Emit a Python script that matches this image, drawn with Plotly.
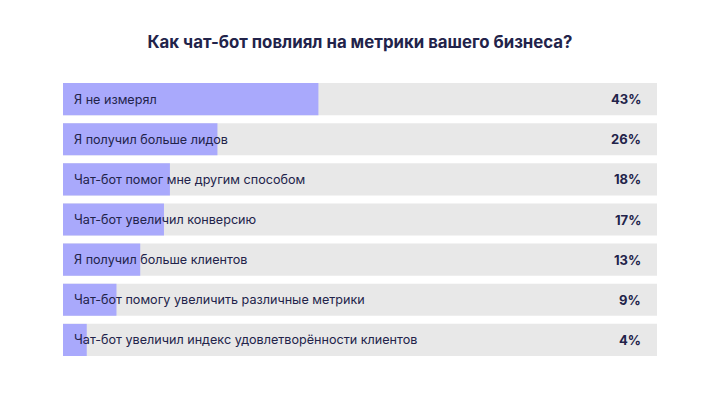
import plotly.graph_objects as go

categories = [
    "Я не измерял",
    "Я получил больше лидов",
    "Чат-бот помог мне другим способом",
    "Чат-бот увеличил конверсию",
    "Я получил больше клиентов",
    "Чат-бот помогу увеличить различные метрики",
    "Чат-бот увеличил индекс удовлетворённости клиентов",
]
values = [43, 26, 18, 17, 13, 9, 4]
value_labels = ["43%", "26%", "18%", "17%", "13%", "9%", "4%"]
total = [100] * len(categories)

TEXT = "#22234a"
FONT = "Inter, Roboto, sans-serif"

fig = go.Figure()
fig.add_trace(go.Bar(
    y=categories, x=total, orientation="h",
    marker=dict(color="#e8e8e8", line=dict(width=0)),
    width=0.8, hoverinfo="skip", showlegend=False,
))
fig.add_trace(go.Bar(
    y=categories, x=values, orientation="h",
    marker=dict(color="#a9a9fc", line=dict(width=0)),
    width=0.8, showlegend=False,
))

for cat, lab in zip(categories, value_labels):
    fig.add_annotation(
        x=0, y=cat, xref="x", yref="y", text=cat, showarrow=False,
        xanchor="left", xshift=9, font=dict(family=FONT, size=12.6, color=TEXT),
    )
    fig.add_annotation(
        x=100, y=cat, xref="x", yref="y", text="<b>" + lab + "</b>", showarrow=False,
        xanchor="right", xshift=-14, font=dict(family=FONT, size=13, color=TEXT),
    )

fig.update_layout(
    width=720, height=404,
    margin=dict(l=55, r=71, t=71, b=52),
    paper_bgcolor="white", plot_bgcolor="white",
    barmode="overlay",
    title=dict(
        text="<b>Как чат-бот повлиял на метрики вашего бизнеса?</b>",
        x=0.5, xref="paper", xanchor="center", y=0.915, yanchor="middle",
        font=dict(family=FONT, size=16.8, color=TEXT),
    ),
    xaxis=dict(range=[0, 100], visible=False, fixedrange=True),
    yaxis=dict(visible=False),
    bargap=0.2,
)
fig.update_yaxes(autorange=False, range=[6.5, -0.5])

fig.write_html("out.html")
